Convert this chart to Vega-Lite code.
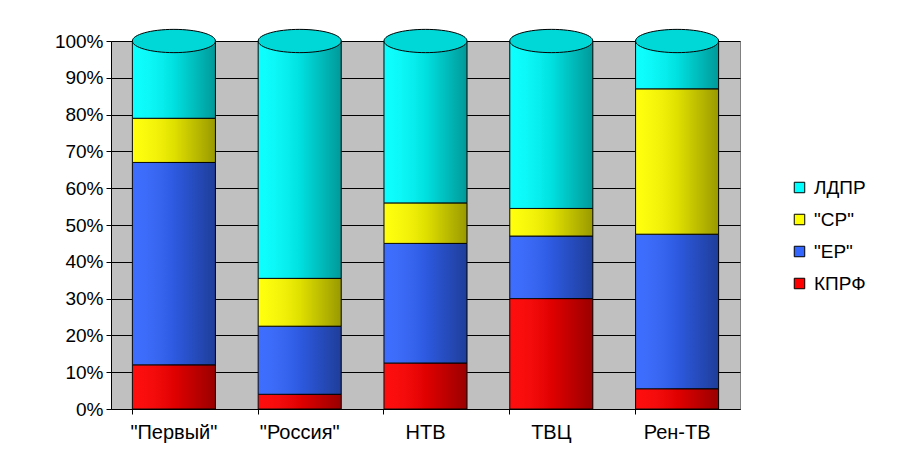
{
  "$schema": "https://vega.github.io/schema/vega-lite/v6.json",
  "width": 629,
  "height": 368,
  "autosize": "none",
  "padding": {"left": 111, "top": 41, "right": 172, "bottom": 51},
  "background": "white",
  "config": {
    "font": "Liberation Sans",
    "view": {"fill": "#c0c0c0", "stroke": "#808080"},
    "axis": {"domainColor": "black", "tickColor": "black", "labelColor": "black", "labelFont": "Liberation Sans"}
  },
  "data": {
    "values": [
      {"channel": "\"Первый\"", "party": "КПРФ", "order": 1, "value": 12},
      {"channel": "\"Первый\"", "party": "\"ЕР\"", "order": 2, "value": 55},
      {"channel": "\"Первый\"", "party": "\"СР\"", "order": 3, "value": 12},
      {"channel": "\"Первый\"", "party": "ЛДПР", "order": 4, "value": 21},
      {"channel": "\"Россия\"", "party": "КПРФ", "order": 1, "value": 4},
      {"channel": "\"Россия\"", "party": "\"ЕР\"", "order": 2, "value": 18.5},
      {"channel": "\"Россия\"", "party": "\"СР\"", "order": 3, "value": 13},
      {"channel": "\"Россия\"", "party": "ЛДПР", "order": 4, "value": 64.5},
      {"channel": "НТВ", "party": "КПРФ", "order": 1, "value": 12.5},
      {"channel": "НТВ", "party": "\"ЕР\"", "order": 2, "value": 32.5},
      {"channel": "НТВ", "party": "\"СР\"", "order": 3, "value": 11},
      {"channel": "НТВ", "party": "ЛДПР", "order": 4, "value": 44},
      {"channel": "ТВЦ", "party": "КПРФ", "order": 1, "value": 30},
      {"channel": "ТВЦ", "party": "\"ЕР\"", "order": 2, "value": 17},
      {"channel": "ТВЦ", "party": "\"СР\"", "order": 3, "value": 7.5},
      {"channel": "ТВЦ", "party": "ЛДПР", "order": 4, "value": 45.5},
      {"channel": "Рен-ТВ", "party": "КПРФ", "order": 1, "value": 5.5},
      {"channel": "Рен-ТВ", "party": "\"ЕР\"", "order": 2, "value": 42},
      {"channel": "Рен-ТВ", "party": "\"СР\"", "order": 3, "value": 39.5},
      {"channel": "Рен-ТВ", "party": "ЛДПР", "order": 4, "value": 13}
    ]
  },
  "transform": [
    {
      "stack": "value",
      "groupby": ["channel"],
      "sort": [{"field": "order", "order": "ascending"}],
      "offset": "normalize",
      "as": ["y0", "y1"]
    }
  ],
  "encoding": {
    "x": {
      "field": "channel",
      "type": "nominal",
      "sort": ["\"Первый\"", "\"Россия\"", "НТВ", "ТВЦ", "Рен-ТВ"],
      "scale": {"paddingInner": 0.34, "paddingOuter": 0.17},
      "axis": {
        "title": null,
        "labelAngle": 0,
        "labelFontSize": 20,
        "labelPadding": 8,
        "tickSize": 5,
        "bandPosition": 0,
        "grid": false
      }
    },
    "y": {
      "field": "y1",
      "type": "quantitative",
      "scale": {"domain": [0, 1], "nice": false},
      "axis": {
        "title": null,
        "format": ".0%",
        "values": [0, 0.1, 0.2, 0.3, 0.4, 0.5, 0.6, 0.7, 0.8, 0.9, 1],
        "labelOverlap": false,
        "labelFontSize": 19,
        "labelPadding": 3,
        "tickSize": 5,
        "grid": true,
        "gridColor": "black",
        "gridOpacity": 1,
        "gridWidth": 1
      }
    }
  },
  "layer": [
    {
      "mark": {"type": "bar", "stroke": "black", "strokeWidth": 1},
      "encoding": {
        "y2": {"field": "y0"},
        "color": {
          "field": "party",
          "type": "nominal",
          "scale": {
            "domain": ["ЛДПР", "\"СР\"", "\"ЕР\"", "КПРФ"],
            "range": ["#00ffff", "#ffff00", "#3366ff", "#ff0000"]
          },
          "legend": {
            "title": null,
            "orient": "none",
            "legendX": 679,
            "legendY": 137,
            "symbolType": "square",
            "symbolSize": 110,
            "symbolStrokeColor": "black",
            "symbolStrokeWidth": 1,
            "symbolOpacity": 1,
            "labelFontSize": 19,
            "labelColor": "black",
            "labelFont": "Liberation Sans",
            "rowPadding": 12,
            "labelOffset": 5
          }
        }
      }
    },
    {
      "mark": {
        "type": "bar",
        "color": {
          "gradient": "linear",
          "x1": 0, "y1": 0, "x2": 1, "y2": 0,
          "stops": [
            {"offset": 0, "color": "rgba(255,255,255,0.05)"},
            {"offset": 0.5, "color": "rgba(0,0,0,0.12)"},
            {"offset": 1, "color": "rgba(0,0,0,0.4)"}
          ]
        }
      },
      "encoding": {
        "y2": {"field": "y0"}
      }
    },
    {
      "transform": [{"filter": "datum.party == 'ЛДПР'"}],
      "mark": {
        "type": "point",
        "shape": "M-1,0A1,0.28,0,1,1,1,0A1,0.28,0,1,1,-1,0Z",
        "filled": true,
        "fill": "#00d8d8",
        "stroke": "black",
        "strokeWidth": 1,
        "opacity": 1,
        "size": 6900
      }
    }
  ]
}
